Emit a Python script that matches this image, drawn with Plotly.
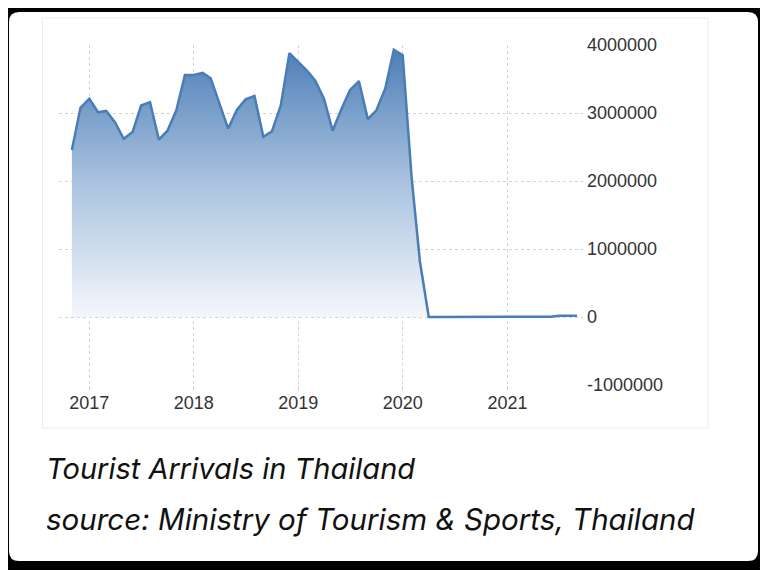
import plotly.graph_objects as go

# ---- data ----
months = [
    "2016-11-01", "2016-12-01",
    "2017-01-01", "2017-02-01", "2017-03-01", "2017-04-01", "2017-05-01", "2017-06-01",
    "2017-07-01", "2017-08-01", "2017-09-01", "2017-10-01", "2017-11-01", "2017-12-01",
    "2018-01-01", "2018-02-01", "2018-03-01", "2018-04-01", "2018-05-01", "2018-06-01",
    "2018-07-01", "2018-08-01", "2018-09-01", "2018-10-01", "2018-11-01", "2018-12-01",
    "2019-01-01", "2019-02-01", "2019-03-01", "2019-04-01", "2019-05-01", "2019-06-01",
    "2019-07-01", "2019-08-01", "2019-09-01", "2019-10-01", "2019-11-01", "2019-12-01",
    "2020-01-01", "2020-02-01", "2020-03-01", "2020-04-01", "2020-05-01", "2020-06-01",
    "2020-07-01", "2020-08-01", "2020-09-01", "2020-10-01", "2020-11-01", "2020-12-01",
    "2021-01-01", "2021-02-01", "2021-03-01", "2021-04-01", "2021-05-01", "2021-06-01",
    "2021-07-01", "2021-08-01", "2021-09-01",
]
arrivals = [
    2455000, 3077000,
    3210000, 3010000, 3030000, 2860000, 2620000, 2720000,
    3110000, 3160000, 2610000, 2740000, 3040000, 3560000,
    3560000, 3590000, 3510000, 3150000, 2770000, 3050000,
    3200000, 3250000, 2650000, 2730000, 3110000, 3880000,
    3750000, 3620000, 3480000, 3210000, 2740000, 3060000,
    3340000, 3470000, 2910000, 3040000, 3360000, 3930000,
    3850000, 2060000, 820000, 0, 0, 0,
    0, 0, 0, 1201, 6556, 6556,
    7694, 6097, 6859, 8741, 5369, 5490,
    18056, 15040, 18052,
]
x_tick_vals = ["2017-01-01", "2018-01-01", "2019-01-01", "2020-01-01", "2021-01-01"]
x_tick_text = ["2017", "2018", "2019", "2020", "2021"]
y_tick_vals = [-1000000, 0, 1000000, 2000000, 3000000, 4000000]
y_tick_text = ["-1000000", "0", "1000000", "2000000", "3000000", "4000000"]
title_text = "Tourist Arrivals in Thailand"
source_text = "source: Ministry of Tourism &amp; Sports, Thailand"

# ---- layout geometry (pixels) ----
W, H = 768, 570
DX, DY = 8, 7  # page offset observed in the rendering
L, T = 59 - DX, 44 - DY
pw, ph = 524, 340
R, B = W - L - pw, H - T - ph


def px(x):
    # target screen pixel -> paper fraction
    return (x - DX - L) / pw


def py(y):
    return (T + ph - (y - DY)) / ph


line_color = "#4a7db4"

fig = go.Figure()
fig.add_trace(go.Scatter(
    x=months, y=arrivals, mode="lines",
    line=dict(color=line_color, width=2.5),
    fill="tozeroy",
    fillgradient=dict(
        type="vertical",
        colorscale=[[0, "#f4f7fb"], [0.5, "#a9c2df"], [1, "#4b7db6"]],
        start=0, stop=4000000,
    ),
    hoverinfo="x+y", showlegend=False,
))


def rounded_rect(x0, y0, x1, y1, r):
    pts = [
        f"M {px(x0 + r)} {py(y0)}",
        f"L {px(x1 - r)} {py(y0)}",
        f"Q {px(x1)} {py(y0)} {px(x1)} {py(y0 + r)}",
        f"L {px(x1)} {py(y1 - r)}",
        f"Q {px(x1)} {py(y1)} {px(x1 - r)} {py(y1)}",
        f"L {px(x0 + r)} {py(y1)}",
        f"Q {px(x0)} {py(y1)} {px(x0)} {py(y1 - r)}",
        f"L {px(x0)} {py(y0 + r)}",
        f"Q {px(x0)} {py(y0)} {px(x0 + r)} {py(y0)}",
        "Z",
    ]
    return " ".join(pts)


shapes = [
    dict(type="path", xref="paper", yref="paper", path=rounded_rect(9, 11, 758, 560, 10),
         fillcolor="white", line=dict(width=0), layer="below"),
    dict(type="rect", xref="paper", yref="paper",
         x0=px(42.5), x1=px(708), y0=py(427), y1=py(17),
         fillcolor="rgba(0,0,0,0)", line=dict(color="#ebebeb", width=1), layer="below"),
]

grid_kw = dict(gridcolor="#d4d4d4", griddash="dot", gridwidth=1)

fig.update_layout(
    width=W, height=H,
    margin=dict(l=L, r=R, t=T, b=B, pad=0),
    paper_bgcolor="black",
    plot_bgcolor="rgba(0,0,0,0)",
    shapes=shapes,
    xaxis=dict(
        type="date", range=["2016-09-17", "2021-09-22"],
        tickmode="array", tickvals=x_tick_vals, ticktext=x_tick_text,
        showgrid=True, **grid_kw, zeroline=False, showline=False,
        ticks="outside", ticklen=5, tickcolor="#d4d4d4",
        ticklabelstandoff=-4,
        tickfont=dict(family="Liberation Sans, Arial, sans-serif", size=18, color="#333333"),
        fixedrange=True, automargin=False,
    ),
    yaxis=dict(
        range=[-1000000, 4000000], side="right",
        tickmode="array", tickvals=y_tick_vals, ticktext=y_tick_text,
        showgrid=True, **grid_kw, zeroline=False, showline=False,
        ticks="", ticklabelstandoff=3,
        tickfont=dict(family="Liberation Sans, Arial, sans-serif", size=18, color="#333333"),
        fixedrange=True, automargin=False,
    ),
    annotations=[
        dict(xref="paper", yref="paper", x=px(44), y=py(467), xanchor="left", yanchor="middle",
             text=title_text, showarrow=False,
             font=dict(family="Inter, Noto Sans, sans-serif", size=29, color="#111111", style="italic")),
        dict(xref="paper", yref="paper", x=px(44), y=py(518), xanchor="left", yanchor="middle",
             text=source_text, showarrow=False,
             font=dict(family="Inter, Noto Sans, sans-serif", size=29.5, color="#111111", style="italic")),
    ],
)

fig.write_html("out.html")
